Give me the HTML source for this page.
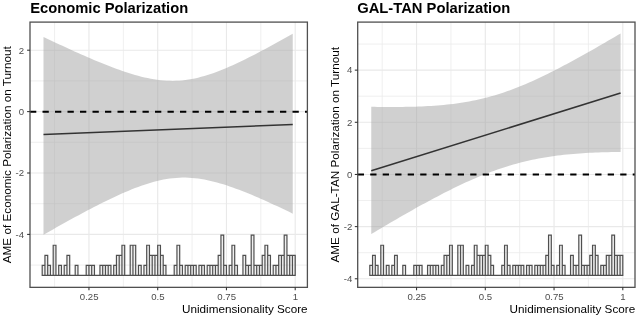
<!DOCTYPE html>
<html><head><meta charset="utf-8"><title>Polarization plots</title>
<style>
html,body{margin:0;padding:0;background:#fff;}
body{width:640px;height:320px;overflow:hidden;font-family:"Liberation Sans",sans-serif;}
svg{display:block;will-change:transform;font-family:"Liberation Sans",sans-serif;}
</style></head>
<body>
<svg width="640" height="320" viewBox="0 0 640 320">
<rect width="640" height="320" fill="#fff"/>
<rect x="30.0" y="22.1" width="277.4" height="265.25" fill="#fff"/>
<line x1="54.58" x2="54.58" y1="22.1" y2="287.35" stroke="#ebebeb" stroke-width="0.8"/>
<line x1="123.33" x2="123.33" y1="22.1" y2="287.35" stroke="#ebebeb" stroke-width="0.8"/>
<line x1="192.07" x2="192.07" y1="22.1" y2="287.35" stroke="#ebebeb" stroke-width="0.8"/>
<line x1="260.82" x2="260.82" y1="22.1" y2="287.35" stroke="#ebebeb" stroke-width="0.8"/>
<line x1="30.0" x2="307.4" y1="80.90" y2="80.90" stroke="#ebebeb" stroke-width="0.8"/>
<line x1="30.0" x2="307.4" y1="142.30" y2="142.30" stroke="#ebebeb" stroke-width="0.8"/>
<line x1="30.0" x2="307.4" y1="203.70" y2="203.70" stroke="#ebebeb" stroke-width="0.8"/>
<line x1="30.0" x2="307.4" y1="265.10" y2="265.10" stroke="#ebebeb" stroke-width="0.8"/>
<line x1="88.95" x2="88.95" y1="22.1" y2="287.35" stroke="#e9e9e9" stroke-width="1.15"/>
<line x1="157.70" x2="157.70" y1="22.1" y2="287.35" stroke="#e9e9e9" stroke-width="1.15"/>
<line x1="226.45" x2="226.45" y1="22.1" y2="287.35" stroke="#e9e9e9" stroke-width="1.15"/>
<line x1="295.20" x2="295.20" y1="22.1" y2="287.35" stroke="#e9e9e9" stroke-width="1.15"/>
<line x1="30.0" x2="307.4" y1="50.20" y2="50.20" stroke="#e9e9e9" stroke-width="1.15"/>
<line x1="30.0" x2="307.4" y1="111.60" y2="111.60" stroke="#e9e9e9" stroke-width="1.15"/>
<line x1="30.0" x2="307.4" y1="173.00" y2="173.00" stroke="#e9e9e9" stroke-width="1.15"/>
<line x1="30.0" x2="307.4" y1="234.40" y2="234.40" stroke="#e9e9e9" stroke-width="1.15"/>
<polygon fill="#a2a2a2" fill-opacity="0.5" points="43.50,36.94 46.66,38.45 49.81,39.95 52.97,41.44 56.12,42.92 59.28,44.40 62.43,45.87 65.59,47.33 68.74,48.77 71.90,50.21 75.05,51.64 78.21,53.05 81.36,54.45 84.52,55.84 87.67,57.22 90.83,58.57 93.98,59.91 97.14,61.23 100.29,62.53 103.45,63.81 106.60,65.07 109.76,66.30 112.91,67.50 116.07,68.67 119.22,69.82 122.38,70.92 125.53,71.99 128.69,73.02 131.84,74.00 135.00,74.93 138.15,75.82 141.31,76.64 144.46,77.41 147.62,78.11 150.77,78.74 153.93,79.30 157.08,79.78 160.24,80.18 163.39,80.49 166.55,80.72 169.70,80.84 172.86,80.88 176.01,80.81 179.17,80.65 182.32,80.39 185.48,80.03 188.63,79.58 191.79,79.03 194.94,78.39 198.10,77.67 201.25,76.86 204.41,75.97 207.56,75.01 210.72,73.97 213.87,72.88 217.03,71.72 220.18,70.50 223.34,69.24 226.49,67.92 229.65,66.56 232.80,65.15 235.96,63.71 239.11,62.24 242.27,60.73 245.42,59.19 248.58,57.62 251.73,56.02 254.89,54.41 258.04,52.77 261.20,51.11 264.35,49.43 267.51,47.73 270.66,46.02 273.82,44.29 276.97,42.55 280.13,40.80 283.28,39.03 286.44,37.25 289.59,35.47 292.75,33.67 292.75,213.66 289.59,212.12 286.44,210.60 283.28,209.09 280.13,207.60 276.97,206.11 273.82,204.64 270.66,203.19 267.51,201.75 264.35,200.33 261.20,198.93 258.04,197.56 254.89,196.20 251.73,194.87 248.58,193.56 245.42,192.29 242.27,191.04 239.11,189.82 235.96,188.65 232.80,187.51 229.65,186.41 226.49,185.36 223.34,184.36 220.18,183.41 217.03,182.51 213.87,181.68 210.72,180.91 207.56,180.22 204.41,179.59 201.25,179.05 198.10,178.58 194.94,178.21 191.79,177.92 188.63,177.72 185.48,177.62 182.32,177.62 179.17,177.71 176.01,177.90 172.86,178.19 169.70,178.57 166.55,179.05 163.39,179.61 160.24,180.27 157.08,181.00 153.93,181.81 150.77,182.70 147.62,183.66 144.46,184.69 141.31,185.77 138.15,186.92 135.00,188.11 131.84,189.36 128.69,190.65 125.53,191.99 122.38,193.36 119.22,194.77 116.07,196.22 112.91,197.69 109.76,199.19 106.60,200.72 103.45,202.28 100.29,203.86 97.14,205.46 93.98,207.07 90.83,208.71 87.67,210.36 84.52,212.03 81.36,213.72 78.21,215.41 75.05,217.12 71.90,218.85 68.74,220.58 65.59,222.32 62.43,224.08 59.28,225.84 56.12,227.61 52.97,229.39 49.81,231.18 46.66,232.97 43.50,234.77"/>
<line x1="43.5" y1="134.5" x2="292.75" y2="124.45" stroke="#333" stroke-width="1.6"/>
<line x1="30.0" x2="307.4" y1="111.7" y2="111.7" stroke="#000" stroke-width="1.9" stroke-dasharray="6.3 6.2" stroke-dashoffset="0"/>
<path d="M42.20 275.4V265.35H44.95V275.4ZM44.95 275.4V255.30H47.70V275.4ZM47.70 275.4V265.35H50.45V275.4ZM50.45 275.4V275.40H53.20V275.4ZM53.20 275.4V245.25H55.95V275.4ZM55.95 275.4V275.40H58.70V275.4ZM58.70 275.4V265.35H61.45V275.4ZM61.45 275.4V275.40H64.20V275.4ZM64.20 275.4V265.35H66.95V275.4ZM66.95 275.4V255.30H69.70V275.4ZM69.70 275.4V275.40H72.45V275.4ZM72.45 275.4V275.40H75.20V275.4ZM75.20 275.4V265.35H77.95V275.4ZM77.95 275.4V275.40H80.70V275.4ZM80.70 275.4V275.40H83.45V275.4ZM83.45 275.4V275.40H86.20V275.4ZM86.20 275.4V265.35H88.95V275.4ZM88.95 275.4V265.35H91.70V275.4ZM91.70 275.4V265.35H94.45V275.4ZM94.45 275.4V275.40H97.20V275.4ZM97.20 275.4V275.40H99.95V275.4ZM99.95 275.4V265.35H102.70V275.4ZM102.70 275.4V265.35H105.45V275.4ZM105.45 275.4V265.35H108.20V275.4ZM108.20 275.4V265.35H110.95V275.4ZM110.95 275.4V275.40H113.70V275.4ZM113.70 275.4V265.35H116.45V275.4ZM116.45 275.4V255.30H119.20V275.4ZM119.20 275.4V255.30H121.95V275.4ZM121.95 275.4V245.25H124.70V275.4ZM124.70 275.4V275.40H127.45V275.4ZM127.45 275.4V275.40H130.20V275.4ZM130.20 275.4V245.25H132.95V275.4ZM132.95 275.4V245.25H135.70V275.4ZM135.70 275.4V275.40H138.45V275.4ZM138.45 275.4V265.35H141.20V275.4ZM141.20 275.4V275.40H143.95V275.4ZM143.95 275.4V265.35H146.70V275.4ZM146.70 275.4V245.25H149.45V275.4ZM149.45 275.4V255.30H152.20V275.4ZM152.20 275.4V255.30H154.95V275.4ZM154.95 275.4V255.30H157.70V275.4ZM157.70 275.4V245.25H160.45V275.4ZM160.45 275.4V255.30H163.20V275.4ZM163.20 275.4V265.35H165.95V275.4ZM165.95 275.4V275.40H168.70V275.4ZM168.70 275.4V275.40H171.45V275.4ZM171.45 275.4V275.40H174.20V275.4ZM174.20 275.4V265.35H176.95V275.4ZM176.95 275.4V245.25H179.70V275.4ZM179.70 275.4V265.35H182.45V275.4ZM182.45 275.4V275.40H185.20V275.4ZM185.20 275.4V265.35H187.95V275.4ZM187.95 275.4V265.35H190.70V275.4ZM190.70 275.4V265.35H193.45V275.4ZM193.45 275.4V265.35H196.20V275.4ZM196.20 275.4V275.40H198.95V275.4ZM198.95 275.4V265.35H201.70V275.4ZM201.70 275.4V265.35H204.45V275.4ZM204.45 275.4V275.40H207.20V275.4ZM207.20 275.4V265.35H209.95V275.4ZM209.95 275.4V265.35H212.70V275.4ZM212.70 275.4V265.35H215.45V275.4ZM215.45 275.4V265.35H218.20V275.4ZM218.20 275.4V255.30H220.95V275.4ZM220.95 275.4V235.20H223.70V275.4ZM223.70 275.4V265.35H226.45V275.4ZM226.45 275.4V275.40H229.20V275.4ZM229.20 275.4V265.35H231.95V275.4ZM231.95 275.4V245.25H234.70V275.4ZM234.70 275.4V265.35H237.45V275.4ZM237.45 275.4V275.40H240.20V275.4ZM240.20 275.4V275.40H242.95V275.4ZM242.95 275.4V255.30H245.70V275.4ZM245.70 275.4V265.35H248.45V275.4ZM248.45 275.4V265.35H251.20V275.4ZM251.20 275.4V235.20H253.95V275.4ZM253.95 275.4V265.35H256.70V275.4ZM256.70 275.4V265.35H259.45V275.4ZM259.45 275.4V265.35H262.20V275.4ZM262.20 275.4V255.30H264.95V275.4ZM264.95 275.4V245.25H267.70V275.4ZM267.70 275.4V255.30H270.45V275.4ZM270.45 275.4V275.40H273.20V275.4ZM273.20 275.4V265.35H275.95V275.4ZM275.95 275.4V265.35H278.70V275.4ZM278.70 275.4V255.30H281.45V275.4ZM281.45 275.4V255.30H284.20V275.4ZM284.20 275.4V235.20H286.95V275.4ZM286.95 275.4V255.30H289.70V275.4ZM289.70 275.4V255.30H292.45V275.4ZM292.45 275.4V255.30H295.20V275.4Z" fill="#000" fill-opacity="0.06" stroke="#4f4f4f" stroke-width="1.2" stroke-linejoin="miter"/>
<rect x="30.0" y="22.1" width="277.4" height="265.25" fill="none" stroke="#505050" stroke-width="1.3"/>
<line x1="88.95" x2="88.95" y1="287.35" y2="290.25" stroke="#333" stroke-width="1.07"/>
<text x="89.15" y="299.6" text-anchor="middle" font-size="9.6" fill="#4d4d4d">0.25</text>
<line x1="157.70" x2="157.70" y1="287.35" y2="290.25" stroke="#333" stroke-width="1.07"/>
<text x="157.90" y="299.6" text-anchor="middle" font-size="9.6" fill="#4d4d4d">0.5</text>
<line x1="226.45" x2="226.45" y1="287.35" y2="290.25" stroke="#333" stroke-width="1.07"/>
<text x="226.65" y="299.6" text-anchor="middle" font-size="9.6" fill="#4d4d4d">0.75</text>
<line x1="295.20" x2="295.20" y1="287.35" y2="290.25" stroke="#333" stroke-width="1.07"/>
<text x="295.40" y="299.6" text-anchor="middle" font-size="9.6" fill="#4d4d4d">1</text>
<line x1="27.1" x2="30.0" y1="50.20" y2="50.20" stroke="#333" stroke-width="1.07"/>
<text x="24.0" y="53.50" text-anchor="end" font-size="9.6" fill="#4d4d4d">2</text>
<line x1="27.1" x2="30.0" y1="111.60" y2="111.60" stroke="#333" stroke-width="1.07"/>
<text x="24.0" y="114.90" text-anchor="end" font-size="9.6" fill="#4d4d4d">0</text>
<line x1="27.1" x2="30.0" y1="173.00" y2="173.00" stroke="#333" stroke-width="1.07"/>
<text x="24.0" y="176.30" text-anchor="end" font-size="9.6" fill="#4d4d4d">-2</text>
<line x1="27.1" x2="30.0" y1="234.40" y2="234.40" stroke="#333" stroke-width="1.07"/>
<text x="24.0" y="237.70" text-anchor="end" font-size="9.6" fill="#4d4d4d">-4</text>
<text x="30.2" y="12.6" font-size="14.3" font-weight="bold" fill="#000" textLength="158" lengthAdjust="spacingAndGlyphs">Economic Polarization</text>
<text x="307.59999999999997" y="313.1" text-anchor="end" font-size="11.8" fill="#000" textLength="125.6" lengthAdjust="spacingAndGlyphs">Unidimensionality Score</text>
<text transform="translate(11.2,154.72500000000002) rotate(-90)" text-anchor="middle" font-size="11.8" fill="#000" textLength="217" lengthAdjust="spacingAndGlyphs">AME of Economic Polarization on Turnout</text>
<rect x="357.7" y="22.1" width="277.3" height="265.25" fill="#fff"/>
<line x1="382.18" x2="382.18" y1="22.1" y2="287.35" stroke="#ebebeb" stroke-width="0.8"/>
<line x1="450.93" x2="450.93" y1="22.1" y2="287.35" stroke="#ebebeb" stroke-width="0.8"/>
<line x1="519.67" x2="519.67" y1="22.1" y2="287.35" stroke="#ebebeb" stroke-width="0.8"/>
<line x1="588.42" x2="588.42" y1="22.1" y2="287.35" stroke="#ebebeb" stroke-width="0.8"/>
<line x1="357.7" x2="635.0" y1="44.05" y2="44.05" stroke="#ebebeb" stroke-width="0.8"/>
<line x1="357.7" x2="635.0" y1="96.21" y2="96.21" stroke="#ebebeb" stroke-width="0.8"/>
<line x1="357.7" x2="635.0" y1="148.37" y2="148.37" stroke="#ebebeb" stroke-width="0.8"/>
<line x1="357.7" x2="635.0" y1="200.53" y2="200.53" stroke="#ebebeb" stroke-width="0.8"/>
<line x1="357.7" x2="635.0" y1="252.69" y2="252.69" stroke="#ebebeb" stroke-width="0.8"/>
<line x1="416.55" x2="416.55" y1="22.1" y2="287.35" stroke="#e9e9e9" stroke-width="1.15"/>
<line x1="485.30" x2="485.30" y1="22.1" y2="287.35" stroke="#e9e9e9" stroke-width="1.15"/>
<line x1="554.05" x2="554.05" y1="22.1" y2="287.35" stroke="#e9e9e9" stroke-width="1.15"/>
<line x1="622.80" x2="622.80" y1="22.1" y2="287.35" stroke="#e9e9e9" stroke-width="1.15"/>
<line x1="357.7" x2="635.0" y1="70.13" y2="70.13" stroke="#e9e9e9" stroke-width="1.15"/>
<line x1="357.7" x2="635.0" y1="122.29" y2="122.29" stroke="#e9e9e9" stroke-width="1.15"/>
<line x1="357.7" x2="635.0" y1="174.45" y2="174.45" stroke="#e9e9e9" stroke-width="1.15"/>
<line x1="357.7" x2="635.0" y1="226.61" y2="226.61" stroke="#e9e9e9" stroke-width="1.15"/>
<line x1="357.7" x2="635.0" y1="278.77" y2="278.77" stroke="#e9e9e9" stroke-width="1.15"/>
<polygon fill="#a2a2a2" fill-opacity="0.5" points="371.25,106.78 374.41,106.83 377.56,106.88 380.72,106.92 383.88,106.95 387.03,106.97 390.19,106.98 393.34,106.99 396.50,106.98 399.66,106.95 402.81,106.92 405.97,106.87 409.13,106.81 412.28,106.74 415.44,106.65 418.59,106.54 421.75,106.41 424.91,106.26 428.06,106.10 431.22,105.91 434.38,105.70 437.53,105.47 440.69,105.21 443.85,104.92 447.00,104.61 450.16,104.26 453.31,103.88 456.47,103.47 459.63,103.03 462.78,102.55 465.94,102.03 469.10,101.47 472.25,100.87 475.41,100.23 478.57,99.54 481.72,98.81 484.88,98.04 488.03,97.22 491.19,96.36 494.35,95.44 497.50,94.49 500.66,93.48 503.82,92.44 506.97,91.34 510.13,90.21 513.28,89.03 516.44,87.81 519.60,86.55 522.75,85.25 525.91,83.92 529.07,82.55 532.22,81.14 535.38,79.71 538.54,78.24 541.69,76.74 544.85,75.22 548.00,73.67 551.16,72.09 554.32,70.50 557.47,68.88 560.63,67.24 563.79,65.58 566.94,63.90 570.10,62.21 573.26,60.49 576.41,58.77 579.57,57.03 582.72,55.27 585.88,53.51 589.04,51.73 592.19,49.94 595.35,48.14 598.51,46.33 601.66,44.51 604.82,42.68 607.97,40.84 611.13,39.00 614.29,37.14 617.44,35.28 620.60,33.42 620.60,151.93 617.44,151.97 614.29,152.02 611.13,152.08 607.97,152.15 604.82,152.23 601.66,152.33 598.51,152.44 595.35,152.57 592.19,152.71 589.04,152.87 585.88,153.05 582.72,153.25 579.57,153.46 576.41,153.70 573.26,153.96 570.10,154.24 566.94,154.54 563.79,154.87 560.63,155.23 557.47,155.61 554.32,156.02 551.16,156.46 548.00,156.94 544.85,157.44 541.69,157.98 538.54,158.56 535.38,159.17 532.22,159.81 529.07,160.50 525.91,161.22 522.75,161.98 519.60,162.79 516.44,163.63 513.28,164.51 510.13,165.43 506.97,166.40 503.82,167.40 500.66,168.45 497.50,169.53 494.35,170.65 491.19,171.81 488.03,173.01 484.88,174.25 481.72,175.52 478.57,176.83 475.41,178.16 472.25,179.53 469.10,180.94 465.94,182.37 462.78,183.83 459.63,185.31 456.47,186.83 453.31,188.37 450.16,189.93 447.00,191.51 443.85,193.12 440.69,194.74 437.53,196.39 434.38,198.05 431.22,199.73 428.06,201.43 424.91,203.14 421.75,204.87 418.59,206.61 415.44,208.37 412.28,210.13 409.13,211.91 405.97,213.70 402.81,215.51 399.66,217.32 396.50,219.14 393.34,220.97 390.19,222.81 387.03,224.66 383.88,226.52 380.72,228.38 377.56,230.25 374.41,232.13 371.25,234.01"/>
<line x1="371.25" y1="170.7" x2="620.6" y2="93.1" stroke="#333" stroke-width="1.6"/>
<line x1="357.7" x2="635.0" y1="174.5" y2="174.5" stroke="#000" stroke-width="1.9" stroke-dasharray="6.3 6.2" stroke-dashoffset="0"/>
<path d="M369.80 275.4V265.35H372.55V275.4ZM372.55 275.4V255.30H375.30V275.4ZM375.30 275.4V265.35H378.05V275.4ZM378.05 275.4V275.40H380.80V275.4ZM380.80 275.4V245.25H383.55V275.4ZM383.55 275.4V275.40H386.30V275.4ZM386.30 275.4V265.35H389.05V275.4ZM389.05 275.4V275.40H391.80V275.4ZM391.80 275.4V265.35H394.55V275.4ZM394.55 275.4V255.30H397.30V275.4ZM397.30 275.4V275.40H400.05V275.4ZM400.05 275.4V275.40H402.80V275.4ZM402.80 275.4V265.35H405.55V275.4ZM405.55 275.4V275.40H408.30V275.4ZM408.30 275.4V275.40H411.05V275.4ZM411.05 275.4V275.40H413.80V275.4ZM413.80 275.4V265.35H416.55V275.4ZM416.55 275.4V265.35H419.30V275.4ZM419.30 275.4V265.35H422.05V275.4ZM422.05 275.4V275.40H424.80V275.4ZM424.80 275.4V275.40H427.55V275.4ZM427.55 275.4V265.35H430.30V275.4ZM430.30 275.4V265.35H433.05V275.4ZM433.05 275.4V265.35H435.80V275.4ZM435.80 275.4V265.35H438.55V275.4ZM438.55 275.4V275.40H441.30V275.4ZM441.30 275.4V265.35H444.05V275.4ZM444.05 275.4V255.30H446.80V275.4ZM446.80 275.4V255.30H449.55V275.4ZM449.55 275.4V245.25H452.30V275.4ZM452.30 275.4V275.40H455.05V275.4ZM455.05 275.4V275.40H457.80V275.4ZM457.80 275.4V245.25H460.55V275.4ZM460.55 275.4V245.25H463.30V275.4ZM463.30 275.4V275.40H466.05V275.4ZM466.05 275.4V265.35H468.80V275.4ZM468.80 275.4V275.40H471.55V275.4ZM471.55 275.4V265.35H474.30V275.4ZM474.30 275.4V245.25H477.05V275.4ZM477.05 275.4V255.30H479.80V275.4ZM479.80 275.4V255.30H482.55V275.4ZM482.55 275.4V255.30H485.30V275.4ZM485.30 275.4V245.25H488.05V275.4ZM488.05 275.4V255.30H490.80V275.4ZM490.80 275.4V265.35H493.55V275.4ZM493.55 275.4V275.40H496.30V275.4ZM496.30 275.4V275.40H499.05V275.4ZM499.05 275.4V275.40H501.80V275.4ZM501.80 275.4V265.35H504.55V275.4ZM504.55 275.4V245.25H507.30V275.4ZM507.30 275.4V265.35H510.05V275.4ZM510.05 275.4V275.40H512.80V275.4ZM512.80 275.4V265.35H515.55V275.4ZM515.55 275.4V265.35H518.30V275.4ZM518.30 275.4V265.35H521.05V275.4ZM521.05 275.4V265.35H523.80V275.4ZM523.80 275.4V275.40H526.55V275.4ZM526.55 275.4V265.35H529.30V275.4ZM529.30 275.4V265.35H532.05V275.4ZM532.05 275.4V275.40H534.80V275.4ZM534.80 275.4V265.35H537.55V275.4ZM537.55 275.4V265.35H540.30V275.4ZM540.30 275.4V265.35H543.05V275.4ZM543.05 275.4V265.35H545.80V275.4ZM545.80 275.4V255.30H548.55V275.4ZM548.55 275.4V235.20H551.30V275.4ZM551.30 275.4V265.35H554.05V275.4ZM554.05 275.4V275.40H556.80V275.4ZM556.80 275.4V265.35H559.55V275.4ZM559.55 275.4V245.25H562.30V275.4ZM562.30 275.4V265.35H565.05V275.4ZM565.05 275.4V275.40H567.80V275.4ZM567.80 275.4V275.40H570.55V275.4ZM570.55 275.4V255.30H573.30V275.4ZM573.30 275.4V265.35H576.05V275.4ZM576.05 275.4V265.35H578.80V275.4ZM578.80 275.4V235.20H581.55V275.4ZM581.55 275.4V265.35H584.30V275.4ZM584.30 275.4V265.35H587.05V275.4ZM587.05 275.4V265.35H589.80V275.4ZM589.80 275.4V255.30H592.55V275.4ZM592.55 275.4V245.25H595.30V275.4ZM595.30 275.4V255.30H598.05V275.4ZM598.05 275.4V275.40H600.80V275.4ZM600.80 275.4V265.35H603.55V275.4ZM603.55 275.4V265.35H606.30V275.4ZM606.30 275.4V255.30H609.05V275.4ZM609.05 275.4V255.30H611.80V275.4ZM611.80 275.4V235.20H614.55V275.4ZM614.55 275.4V255.30H617.30V275.4ZM617.30 275.4V255.30H620.05V275.4ZM620.05 275.4V255.30H622.80V275.4Z" fill="#000" fill-opacity="0.06" stroke="#4f4f4f" stroke-width="1.2" stroke-linejoin="miter"/>
<rect x="357.7" y="22.1" width="277.3" height="265.25" fill="none" stroke="#505050" stroke-width="1.3"/>
<line x1="416.55" x2="416.55" y1="287.35" y2="290.25" stroke="#333" stroke-width="1.07"/>
<text x="416.75" y="299.6" text-anchor="middle" font-size="9.6" fill="#4d4d4d">0.25</text>
<line x1="485.30" x2="485.30" y1="287.35" y2="290.25" stroke="#333" stroke-width="1.07"/>
<text x="485.50" y="299.6" text-anchor="middle" font-size="9.6" fill="#4d4d4d">0.5</text>
<line x1="554.05" x2="554.05" y1="287.35" y2="290.25" stroke="#333" stroke-width="1.07"/>
<text x="554.25" y="299.6" text-anchor="middle" font-size="9.6" fill="#4d4d4d">0.75</text>
<line x1="622.80" x2="622.80" y1="287.35" y2="290.25" stroke="#333" stroke-width="1.07"/>
<text x="623.00" y="299.6" text-anchor="middle" font-size="9.6" fill="#4d4d4d">1</text>
<line x1="354.8" x2="357.7" y1="70.13" y2="70.13" stroke="#333" stroke-width="1.07"/>
<text x="352.3" y="73.43" text-anchor="end" font-size="9.6" fill="#4d4d4d">4</text>
<line x1="354.8" x2="357.7" y1="122.29" y2="122.29" stroke="#333" stroke-width="1.07"/>
<text x="352.3" y="125.59" text-anchor="end" font-size="9.6" fill="#4d4d4d">2</text>
<line x1="354.8" x2="357.7" y1="174.45" y2="174.45" stroke="#333" stroke-width="1.07"/>
<text x="352.3" y="177.75" text-anchor="end" font-size="9.6" fill="#4d4d4d">0</text>
<line x1="354.8" x2="357.7" y1="226.61" y2="226.61" stroke="#333" stroke-width="1.07"/>
<text x="352.3" y="229.91" text-anchor="end" font-size="9.6" fill="#4d4d4d">-2</text>
<line x1="354.8" x2="357.7" y1="278.77" y2="278.77" stroke="#333" stroke-width="1.07"/>
<text x="352.3" y="282.07" text-anchor="end" font-size="9.6" fill="#4d4d4d">-4</text>
<text x="357.2" y="12.6" font-size="14.3" font-weight="bold" fill="#000" textLength="153" lengthAdjust="spacingAndGlyphs">GAL-TAN Polarization</text>
<text x="635.2" y="313.1" text-anchor="end" font-size="11.8" fill="#000" textLength="125.6" lengthAdjust="spacingAndGlyphs">Unidimensionality Score</text>
<text transform="translate(338.6,154.72500000000002) rotate(-90)" text-anchor="middle" font-size="11.8" fill="#000" textLength="215.5" lengthAdjust="spacingAndGlyphs">AME of GAL-TAN Polarization on Turnout</text>
</svg>
</body></html>
